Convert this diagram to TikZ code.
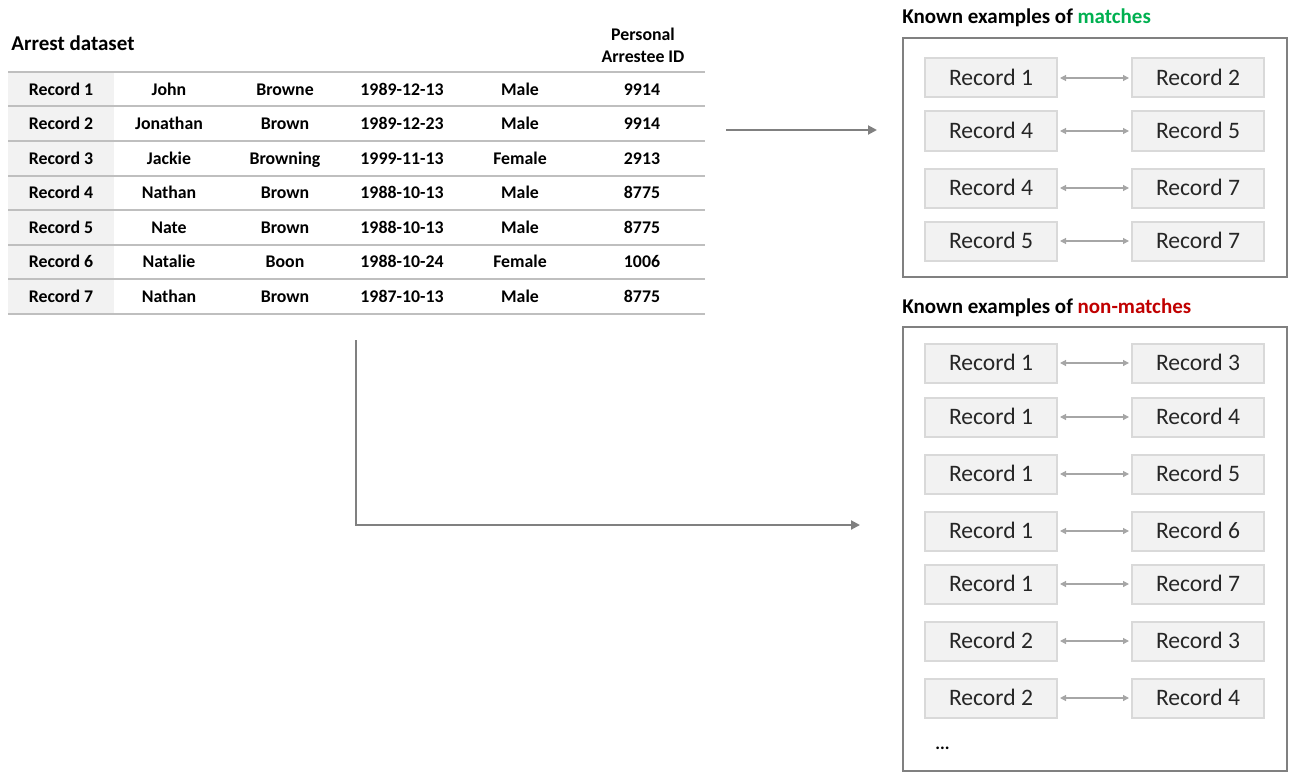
\documentclass[tikz,border=0pt]{standalone}
\usepackage{fontspec}
\setmainfont{Carlito}
\usetikzlibrary{arrows.meta,positioning}
\definecolor{matchgreen}{RGB}{0,176,80}
\definecolor{nonred}{RGB}{192,0,0}
\definecolor{rulegray}{RGB}{191,191,191}
\definecolor{headfill}{RGB}{242,242,242}
\definecolor{boxfill}{RGB}{242,242,242}
\definecolor{boxline}{RGB}{217,217,217}
\definecolor{pairgray}{RGB}{166,166,166}
\definecolor{flowgray}{RGB}{128,128,128}

\begin{document}
\begin{tikzpicture}[x=0.5pt,y=-0.5pt]
\tikzstyle{every node}+=[inner sep=0pt]
\tikzstyle{cell}=[font=\fontsize{8.9}{11}\selectfont\bfseries,text height=7.5pt,text depth=1.8pt]
\tikzstyle{title}=[anchor=west,font=\fontsize{10.5}{12.6}\selectfont\bfseries]
\tikzstyle{recbox}=[draw=boxline,fill=boxfill,line width=1pt,minimum width=66pt,minimum height=19.5pt,text height=9.4pt,text depth=1.8pt,text=black!85,font=\fontsize{11.8}{14}\selectfont]
\tikzstyle{pair}=[pairgray,line width=0.6pt,shorten <=1pt,shorten >=1pt,{Triangle[length=3pt,width=3pt]}-{Triangle[length=3pt,width=3pt]}]
\tikzstyle{flow}=[flowgray,line width=1pt,-{Triangle[length=4.5pt,width=4.5pt]}]
\useasboundingbox (0,0) rectangle (1295,781);

\node[title] (arrest) at (11,43) {Arrest dataset};
\node[font=\fontsize{8.9}{11}\selectfont\bfseries,align=center] (pidhead) at (643,45) {Personal\\Arrestee ID};
\fill[headfill] (8,72) rectangle (114,314);
\foreach \k in {0,...,7}
  \draw[rulegray,line width=1pt] (8,72+34.5*\k) -- (705,72+34.5*\k);
\foreach \fn/\ln/\dob/\sx/\pid [count=\i] in {John/Browne/1989-12-13/Male/9914,
    Jonathan/Brown/1989-12-23/Male/9914, Jackie/Browning/1999-11-13/Female/2913,
    Nathan/Brown/1988-10-13/Male/8775, Nate/Brown/1988-10-13/Male/8775,
    Natalie/Boon/1988-10-24/Female/1006, Nathan/Brown/1987-10-13/Male/8775} {
  \node[cell] (rec\i) at (61,55.25+34.5*\i) {Record \i};
  \node[cell] (fn\i) at (169,55.25+34.5*\i) {\fn};
  \node[cell] (ln\i) at (285,55.25+34.5*\i) {\ln};
  \node[cell] (dob\i) at (402,55.25+34.5*\i) {\dob};
  \node[cell] (sx\i) at (520,55.25+34.5*\i) {\sx};
  \node[cell] (pid\i) at (642,55.25+34.5*\i) {\pid};
}

\node[title] (mtitle) at (902,18) {Known examples of \textcolor{matchgreen}{matches}};
\draw[flowgray,line width=1pt] (903,38) rectangle (1287,277);
\foreach \a/\b/\y [count=\i] in {1/2/78, 4/5/131, 4/7/188, 5/7/241} {
  \node[recbox] (ml\i) at (991,\y) {Record \a};
  \node[recbox] (mr\i) at (1198,\y) {Record \b};
  \draw[pair] (ml\i) -- (mr\i);
}

\node[title] (ntitle) at (902,308) {Known examples of \textcolor{nonred}{non-matches}};
\draw[flowgray,line width=1pt] (903,327) rectangle (1287,771);
\foreach \a/\b/\y [count=\i] in {1/3/363, 1/4/417, 1/5/474, 1/6/531, 1/7/584, 2/3/641, 2/4/698} {
  \node[recbox] (nl\i) at (991,\y) {Record \a};
  \node[recbox] (nr\i) at (1198,\y) {Record \b};
  \draw[pair] (nl\i) -- (nr\i);
}
\node[cell,anchor=west] (more) at (935,744) {...};

\coordinate (tabout) at (726,130);
\coordinate (matchin) at (877,130);
\draw[flow] (tabout) -- (matchin);
\coordinate (tabdown) at (356,340);
\coordinate (nonin) at (860,525);
\draw[flow] (tabdown) |- (nonin);
\end{tikzpicture}
\end{document}
